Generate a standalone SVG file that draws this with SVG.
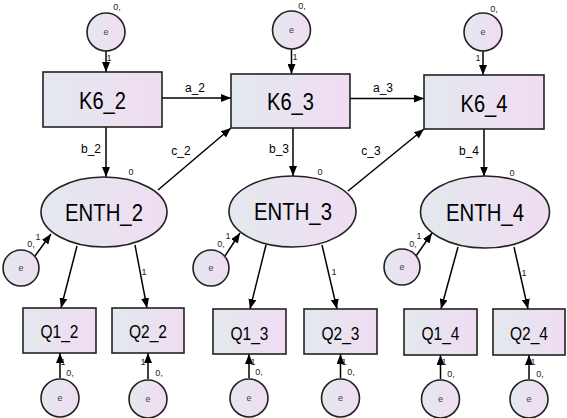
<svg xmlns="http://www.w3.org/2000/svg" width="567" height="418" viewBox="0 0 567 418">
<defs>
<linearGradient id="g" x1="0" y1="0" x2="1" y2="0">
<stop offset="0" stop-color="#e3e9ee"/>
<stop offset="1" stop-color="#f0dcf2"/>
</linearGradient>
<marker id="ah" viewBox="0 0 10 8" refX="10" refY="4" markerWidth="10" markerHeight="8" markerUnits="userSpaceOnUse" orient="auto">
<path d="M0,0 L10,4 L0,8 Z" fill="#000"/>
</marker>
</defs>
<style>
.n{fill:url(#g);stroke:#222;stroke-width:1.6}
.c{stroke:#000;stroke-width:1.5;fill:none}
.a{stroke:#000;stroke-width:1.5;fill:none;marker-end:url(#ah)}
.big{font-family:"Liberation Sans",Arial,sans-serif;font-size:24px;text-anchor:middle;fill:#000}
.mid{font-family:"Liberation Sans",Arial,sans-serif;font-size:18px;text-anchor:middle;fill:#000}
.lab{font-family:"Liberation Sans",Arial,sans-serif;font-size:12px;text-anchor:middle;fill:#000}
.sm{font-family:"Liberation Sans",Arial,sans-serif;font-size:9px;text-anchor:middle;fill:#222}
.e{font-family:"Liberation Sans",Arial,sans-serif;font-size:9px;text-anchor:middle;fill:#444}
</style>
<g id="connectors">
<line class="a" x1="106" y1="51" x2="106" y2="72"/>
<line class="a" x1="291.5" y1="49" x2="291.5" y2="74"/>
<line class="a" x1="483" y1="51" x2="483" y2="75"/>
<line class="a" x1="162" y1="98" x2="231" y2="98"/>
<line class="a" x1="350" y1="98.5" x2="424" y2="98.5"/>
<line class="a" x1="106" y1="127" x2="106" y2="177"/>
<line class="a" x1="293" y1="128" x2="293" y2="176"/>
<line class="a" x1="484" y1="129" x2="484" y2="176.5"/>
<line class="a" x1="158" y1="190" x2="231" y2="128"/>
<line class="a" x1="348" y1="191" x2="424" y2="129"/>
<line class="a" x1="35" y1="256" x2="51" y2="234"/>
<line class="a" x1="225" y1="256" x2="240" y2="233"/>
<line class="a" x1="416" y1="256" x2="432" y2="233"/>
<line class="a" x1="77" y1="246" x2="61" y2="308"/>
<line class="a" x1="135" y1="245" x2="147" y2="308"/>
<line class="a" x1="266" y1="245" x2="250" y2="309"/>
<line class="a" x1="322" y1="245" x2="337" y2="309"/>
<line class="a" x1="458" y1="247" x2="441" y2="309"/>
<line class="a" x1="514" y1="247" x2="528" y2="309"/>
<line class="a" x1="60" y1="378" x2="60" y2="353"/>
<line class="a" x1="148" y1="379" x2="148" y2="353"/>
<line class="a" x1="249" y1="378" x2="249" y2="354"/>
<line class="a" x1="340.5" y1="378" x2="340.5" y2="354"/>
<line class="a" x1="440.5" y1="379" x2="440.5" y2="355"/>
<line class="a" x1="529" y1="379" x2="529" y2="355"/>
<text class="lab" x="195" y="92">a_2</text>
<text class="lab" x="383" y="92">a_3</text>
<text class="lab" x="91" y="153">b_2</text>
<text class="lab" x="279" y="153">b_3</text>
<text class="lab" x="469" y="155">b_4</text>
<text class="lab" x="181" y="155">c_2</text>
<text class="lab" x="371" y="155">c_3</text>
<text class="sm" x="131" y="175">0</text>
<text class="sm" x="320" y="175">0</text>
<text class="sm" x="512" y="176">0</text>
<text class="sm" x="144" y="275">1</text>
<text class="sm" x="334" y="275">1</text>
<text class="sm" x="524" y="276">1</text>
<text class="sm" x="109" y="61">1</text>
<text class="sm" x="295" y="60">1</text>
<text class="sm" x="478" y="61">1</text>
<text class="sm" x="117" y="10">0,</text>
<text class="sm" x="302" y="9">0,</text>
<text class="sm" x="494" y="12">0,</text>
<text class="sm" x="31" y="247">0,</text>
<text class="sm" x="38" y="240">1</text>
<text class="sm" x="221" y="247">0,</text>
<text class="sm" x="228" y="239">1</text>
<text class="sm" x="413" y="247">0,</text>
<text class="sm" x="419" y="239">1</text>
<text class="sm" x="63" y="365">1</text>
<text class="sm" x="70" y="376">0,</text>
<text class="sm" x="143" y="365">1</text>
<text class="sm" x="159" y="376">0,</text>
<text class="sm" x="253" y="365">1</text>
<text class="sm" x="259" y="375">0,</text>
<text class="sm" x="344" y="365">1</text>
<text class="sm" x="351" y="375">0,</text>
<text class="sm" x="444" y="365">1</text>
<text class="sm" x="451" y="377">0,</text>
<text class="sm" x="533" y="365">1</text>
<text class="sm" x="540" y="377">0,</text>
</g>
<g id="e_K6_2"><circle class="n" cx="106" cy="32" r="19"/><text class="e" x="106" y="35">e</text></g>
<g id="e_K6_3"><circle class="n" cx="291.5" cy="30" r="19"/><text class="e" x="291.5" y="33">e</text></g>
<g id="e_K6_4"><circle class="n" cx="483" cy="32" r="19"/><text class="e" x="483" y="35">e</text></g>
<g id="K6_2"><rect class="n" x="43" y="72" width="119" height="55"/><text class="big" x="102.5" y="109" textLength="47" lengthAdjust="spacingAndGlyphs">K6_2</text></g>
<g id="K6_3"><rect class="n" x="231" y="74" width="119" height="54"/><text class="big" x="290.5" y="110" textLength="47" lengthAdjust="spacingAndGlyphs">K6_3</text></g>
<g id="K6_4"><rect class="n" x="424" y="75" width="120" height="54"/><text class="big" x="484" y="111.5" textLength="47" lengthAdjust="spacingAndGlyphs">K6_4</text></g>
<g id="ENTH_2"><ellipse class="n" cx="104" cy="212" rx="63" ry="35"/><text class="big" x="104" y="221" textLength="78" lengthAdjust="spacingAndGlyphs">ENTH_2</text></g>
<g id="ENTH_3"><ellipse class="n" cx="292.5" cy="211.5" rx="63.5" ry="35.5"/><text class="big" x="293" y="220" textLength="78" lengthAdjust="spacingAndGlyphs">ENTH_3</text></g>
<g id="ENTH_4"><ellipse class="n" cx="485" cy="212" rx="64.5" ry="36"/><text class="big" x="485" y="221" textLength="78" lengthAdjust="spacingAndGlyphs">ENTH_4</text></g>
<g id="e_ENTH_2"><circle class="n" cx="21" cy="268" r="18"/><text class="e" x="21" y="271">e</text></g>
<g id="e_ENTH_3"><circle class="n" cx="211" cy="268" r="18"/><text class="e" x="211" y="271">e</text></g>
<g id="e_ENTH_4"><circle class="n" cx="402" cy="267" r="18"/><text class="e" x="402" y="270">e</text></g>
<g id="Q1_2"><rect class="n" x="23" y="308" width="73" height="45"/><text class="mid" x="59.5" y="338" textLength="38" lengthAdjust="spacingAndGlyphs">Q1_2</text></g>
<g id="Q2_2"><rect class="n" x="112" y="308" width="72" height="45"/><text class="mid" x="148" y="338" textLength="38" lengthAdjust="spacingAndGlyphs">Q2_2</text></g>
<g id="Q1_3"><rect class="n" x="213" y="309" width="73" height="45"/><text class="mid" x="249.5" y="339.5" textLength="38" lengthAdjust="spacingAndGlyphs">Q1_3</text></g>
<g id="Q2_3"><rect class="n" x="304" y="309" width="73" height="45"/><text class="mid" x="340.5" y="339.5" textLength="38" lengthAdjust="spacingAndGlyphs">Q2_3</text></g>
<g id="Q1_4"><rect class="n" x="404" y="309" width="73" height="46"/><text class="mid" x="440.5" y="340" textLength="38" lengthAdjust="spacingAndGlyphs">Q1_4</text></g>
<g id="Q2_4"><rect class="n" x="493" y="309" width="72" height="46"/><text class="mid" x="529" y="340" textLength="38" lengthAdjust="spacingAndGlyphs">Q2_4</text></g>
<g id="e_Q1_2"><circle class="n" cx="60" cy="398" r="19"/><text class="e" x="60" y="401">e</text></g>
<g id="e_Q2_2"><circle class="n" cx="148" cy="399" r="19"/><text class="e" x="148" y="402">e</text></g>
<g id="e_Q1_3"><circle class="n" cx="249" cy="398" r="19"/><text class="e" x="249" y="401">e</text></g>
<g id="e_Q2_3"><circle class="n" cx="340.5" cy="398" r="19"/><text class="e" x="340.5" y="401">e</text></g>
<g id="e_Q1_4"><circle class="n" cx="440.5" cy="399" r="19"/><text class="e" x="440.5" y="402">e</text></g>
<g id="e_Q2_4"><circle class="n" cx="529" cy="399" r="19"/><text class="e" x="529" y="402">e</text></g>
</svg>
